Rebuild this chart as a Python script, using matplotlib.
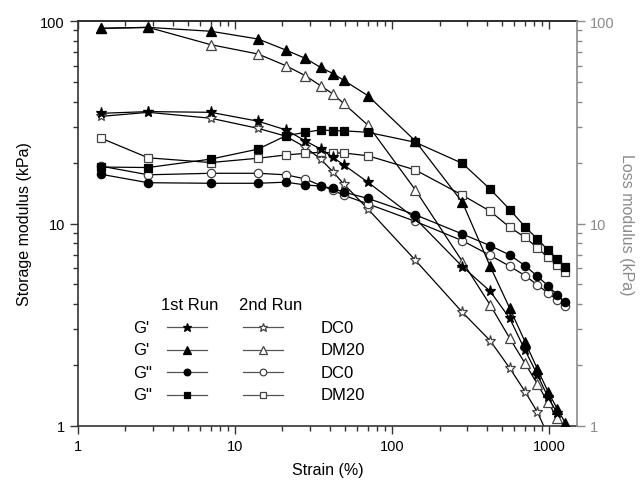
import numpy as np
import matplotlib
matplotlib.use("Agg")
import matplotlib.pyplot as plt
from matplotlib.ticker import LogLocator, NullFormatter, FixedLocator, FixedFormatter

plt.rcParams.update({
    "font.family": ["Liberation Sans", "DejaVu Sans"],
    "font.size": 10,
})

nan = np.nan

# strain (%)
strain = [1.4, 2.8, 7, 14, 21, 28, 35, 42, 49, 70, 140, 280, 420, 560, 700, 840, 980, 1120, 1260]

# G' (storage modulus, kPa)
gp_dc0_run1 = [35, 35.7, 35.4, 32, 29, 25.6, 23.3, 21.2, 19.5, 16, 10.6, 6.12, 4.63, 3.40, 2.37, 1.79, 1.39, 1.16, nan]
gp_dc0_run2 = [33.8, 35.4, 33.1, 29.5, 27, 23.8, 20.8, 18, 15.7, 11.8, 6.6, 3.64, 2.64, 1.93, 1.48, 1.17, 0.9, nan, nan]
gp_dm20_run1 = [92, 93, 89, 81.5, 71.9, 65.4, 59, 55, 51, 42.8, 25.6, 12.7, 6.15, 3.81, 2.61, 1.91, 1.48, 1.22, 1.04]
gp_dm20_run2 = [92, 93, 76.4, 68.7, 60.2, 53.7, 47.9, 43.6, 39.2, 30.6, 14.7, 6.48, 3.96, 2.71, 2.04, 1.61, 1.31, 1.10, nan]

# G'' (loss modulus, kPa)
gpp_dc0_run1 = [17.5, 15.9, 15.8, 15.8, 16, 15.5, 15.3, 14.9, 14.3, 13.3, 11.05, 8.87, 7.77, 6.99, 6.19, 5.49, 4.93, 4.45, 4.08]
gpp_dc0_run2 = [19.2, 17.4, 17.7, 17.7, 17.4, 16.6, 15.4, 14.6, 13.8, 12.5, 10.25, 8.22, 6.96, 6.15, 5.53, 4.97, 4.54, 4.2, 3.9]
gpp_dm20_run1 = [19.0, 18.9, 20.8, 23.3, 27.1, 28.2, 29, 28.7, 28.7, 28.2, 25.2, 19.8, 14.8, 11.7, 9.64, 8.38, 7.4, 6.68, 6.08]
gpp_dm20_run2 = [26.4, 21.1, 20, 21, 21.8, 22.2, 22.5, 22.3, 22.3, 21.6, 18.4, 13.8, 11.5, 9.58, 8.55, 7.57, 6.81, 6.24, 5.74]

EDGE_OPEN = "#444444"
GREY = "#8a8a8a"

# (values, marker, filled, size, legend row, run)
series = [
    (gp_dc0_run2, "*", False, 8, 0, 2),
    (gp_dm20_run2, "^", False, 7, 1, 2),
    (gpp_dc0_run2, "o", False, 6, 2, 2),
    (gpp_dm20_run2, "s", False, 5.5, 3, 2),
    (gp_dc0_run1, "*", True, 8, 0, 1),
    (gp_dm20_run1, "^", True, 7, 1, 1),
    (gpp_dc0_run1, "o", True, 6, 2, 1),
    (gpp_dm20_run1, "s", True, 5.5, 3, 1),
]

fig = plt.figure(figsize=(6.42, 4.85), dpi=100)
ax = fig.add_axes([78 / 642, 1 - 427 / 485, 499 / 642, 405 / 485])

for vals, mk, filled, ms, row, run in series:
    ax.plot(strain, vals, "-", marker=mk, color="black", lw=0.9, ms=ms,
            mfc="black" if filled else "white",
            mec="black" if filled else EDGE_OPEN, mew=0.9, zorder=3 if filled else 2)

ax.set_xscale("log")
ax.set_yscale("log")
ax.set_xlim(1, 1500)
ax.set_ylim(1, 100)

ax.xaxis.set_major_locator(FixedLocator([1, 10, 100, 1000]))
ax.xaxis.set_major_formatter(FixedFormatter(["1", "10", "100", "1000"]))
ax.xaxis.set_minor_locator(LogLocator(base=10, subs=np.arange(2, 10)))
ax.xaxis.set_minor_formatter(NullFormatter())
ax.yaxis.set_major_locator(FixedLocator([1, 10, 100]))
ax.yaxis.set_major_formatter(FixedFormatter(["1", "10", "100"]))
ax.yaxis.set_minor_locator(LogLocator(base=10, subs=np.arange(2, 10)))
ax.yaxis.set_minor_formatter(NullFormatter())
ax.tick_params(which="major", direction="out", length=6, width=1, labelsize=10.5, color="#333333")
ax.tick_params(which="minor", direction="out", length=3.5, width=1, color="#333333")
ax.tick_params(axis="y", right=False)
for s in ax.spines.values():
    s.set_linewidth(1.2)
    s.set_color("#333333")
ax.spines["right"].set_visible(False)

top = ax.secondary_xaxis("top")
top.xaxis.set_major_locator(FixedLocator([1, 10, 100, 1000]))
top.xaxis.set_minor_locator(LogLocator(base=10, subs=np.arange(2, 10)))
top.xaxis.set_minor_formatter(NullFormatter())
top.tick_params(which="major", direction="in", length=6, width=1, labeltop=False, color="#333333")
top.tick_params(which="minor", direction="in", length=3.5, width=1, color="#333333")
top.spines["top"].set_linewidth(1.2)

ax2 = ax.twinx()
ax2.set_yscale("log")
ax2.set_ylim(1, 100)
ax2.yaxis.set_major_locator(FixedLocator([1, 10, 100]))
ax2.yaxis.set_major_formatter(FixedFormatter(["1", "10", "100"]))
ax2.yaxis.set_minor_locator(LogLocator(base=10, subs=np.arange(2, 10)))
ax2.yaxis.set_minor_formatter(NullFormatter())
ax2.tick_params(which="major", direction="out", length=6, width=1, colors=GREY, labelsize=10.5)
ax2.tick_params(which="minor", direction="out", length=3.5, width=1, colors=GREY)
for side in ["left", "top", "bottom"]:
    ax2.spines[side].set_visible(False)
ax2.spines["right"].set_color(GREY)
ax2.spines["right"].set_linewidth(1.2)
ax2.set_ylabel("Loss modulus (kPa)", color=GREY, fontsize=11.5, rotation=-90, labelpad=14)

ax.set_xlabel("Strain (%)", fontsize=11.5, labelpad=6)
ax.set_ylabel("Storage modulus (kPa)", fontsize=11.5, labelpad=6)

# hand-made legend table
row_names = ["G'", "G'", 'G"', 'G"']
row_samples = ["DC0", "DM20", "DC0", "DM20"]
row_y = [0.244, 0.188, 0.133, 0.077]
run_x = {1: (0.178, 0.259), 2: (0.331, 0.411)}
tr = ax.transAxes
ax.text(0.224, 0.300, "1st Run", transform=tr, ha="center", va="center", fontsize=12)
ax.text(0.387, 0.300, "2nd Run", transform=tr, ha="center", va="center", fontsize=12)
for i, y in enumerate(row_y):
    ax.text(0.110, y, row_names[i], transform=tr, ha="left", va="center", fontsize=12)
    ax.text(0.486, y, row_samples[i], transform=tr, ha="left", va="center", fontsize=12)
for vals, mk, filled, ms, row, run in series:
    x0, x1 = run_x[run]
    y = row_y[row]
    ax.plot([x0, x1], [y, y], "-", color="#555555", lw=0.9, transform=tr, clip_on=False)
    ax.plot([(x0 + x1) / 2], [y], marker=mk, ms=ms * 0.8, transform=tr, clip_on=False,
            mfc="black" if filled else "white", mec="black" if filled else EDGE_OPEN, mew=0.9,
            linestyle="none")

fig.savefig("out.png", dpi=100)
